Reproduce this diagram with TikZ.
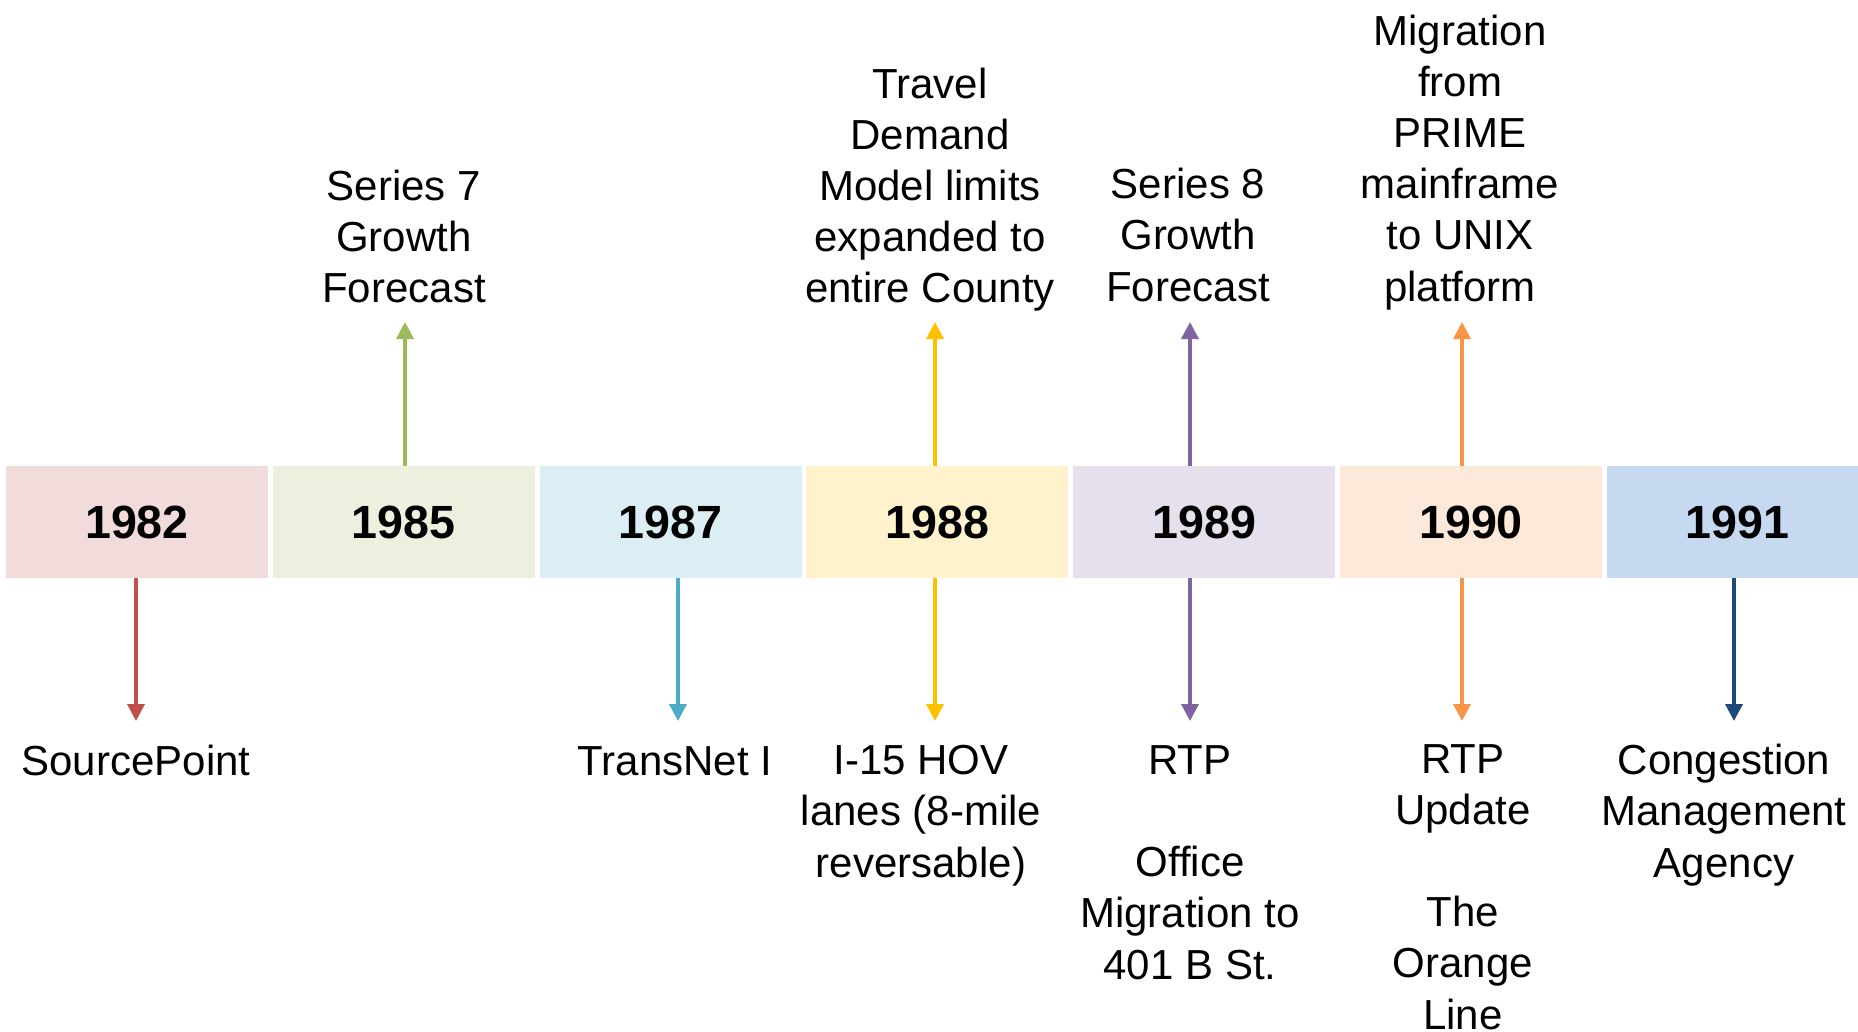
\documentclass[tikz,border=0pt]{standalone}
\usepackage{fontspec}
\setmainfont{Liberation Sans}
\usetikzlibrary{arrows.meta}
\definecolor{f1}{HTML}{F2DCDB}
\definecolor{f2}{HTML}{EBF1DE}
\definecolor{f3}{HTML}{DAEEF3}
\definecolor{f4}{HTML}{FFF2CC}
\definecolor{f5}{HTML}{E5E0EC}
\definecolor{f6}{HTML}{FDE9D9}
\definecolor{f7}{HTML}{C6D9F1}
\definecolor{c1}{HTML}{C0504D}
\definecolor{c2}{HTML}{9BBB59}
\definecolor{c3}{HTML}{4BACC6}
\definecolor{c4}{HTML}{FFC000}
\definecolor{c5}{HTML}{8064A2}
\definecolor{c6}{HTML}{F79646}
\definecolor{c7}{HTML}{1F497D}
\tikzset{
  yearbox/.style={minimum width=131pt, minimum height=56pt, inner sep=0pt, draw=none,
    font=\fontsize{23.3}{28}\selectfont\bfseries},
  lbl/.style={align=center, inner sep=0pt, anchor=base, font=\fontsize{21}{25.6}\selectfont},
  arr/.style={line width=1.8pt, -{Triangle[width=8.5pt,length=8.5pt]}}
}
\begin{document}
\begin{tikzpicture}[x=0.5pt,y=-0.5pt]
\clip (0,0) rectangle (1858,1032);
\fill[white] (0,0) rectangle (1858,1032);
% year boxes
\node[yearbox, fill=f1] (b1) at (137,522) {1982};
\node[yearbox, fill=f2] (b2) at (403.8,522) {1985};
\node[yearbox, fill=f3] (b3) at (670.6,522) {1987};
\node[yearbox, fill=f4] (b4) at (937.4,522) {1988};
\node[yearbox, fill=f5] (b5) at (1204.2,522) {1989};
\node[yearbox, fill=f6] (b6) at (1471,522) {1990};
\node[yearbox, fill=f7] (b7) at (1737.8,522) {1991};
% top labels (anchored at baseline of last line)
\node[lbl] (u2) at (404,303) {Series 7\\Growth\\Forecast};
\node[lbl] (u4) at (930,303) {Travel\\Demand\\Model limits\\expanded to\\entire County};
\node[lbl] (u5) at (1188,301) {Series 8\\Growth\\Forecast};
\node[lbl] (u6) at (1460,301) {Migration\\from\\PRIME\\mainframe\\to UNIX\\platform};
% bottom labels (anchored at baseline of last line)
\node[lbl] (d1) at (136,775) {SourcePoint};
\node[lbl] (d3) at (675,775) {TransNet I};
\node[lbl] (d4) at (921,877) {I-15 HOV\\lanes (8-mile\\reversable)};
\node[lbl] (d5) at (1190,979) {RTP\\~\\Office\\Migration to\\401 B St.};
\node[lbl] (d6) at (1463,1029) {RTP\\Update\\~\\The\\Orange\\Line};
\node[lbl] (d7) at (1724,877) {Congestion\\Management\\Agency};
% arrow tips
\coordinate (t1) at (136,721);
\coordinate (t2) at (405,322);
\coordinate (t3) at (678,721);
\coordinate (t4u) at (935,322);
\coordinate (t4) at (935,721);
\coordinate (t5u) at (1190,322);
\coordinate (t5) at (1190,721);
\coordinate (t6u) at (1462,322);
\coordinate (t6) at (1462,721);
\coordinate (t7) at (1734,721);
% arrows
\draw[arr, c1] (b1.south -| t1) -- (t1);
\draw[arr, c2] (b2.north -| t2) -- (t2);
\draw[arr, c3] (b3.south -| t3) -- (t3);
\draw[arr, c4] (b4.north -| t4u) -- (t4u);
\draw[arr, c4] (b4.south -| t4) -- (t4);
\draw[arr, c5] (b5.north -| t5u) -- (t5u);
\draw[arr, c5] (b5.south -| t5) -- (t5);
\draw[arr, c6] (b6.north -| t6u) -- (t6u);
\draw[arr, c6] (b6.south -| t6) -- (t6);
\draw[arr, c7] (b7.south -| t7) -- (t7);
\end{tikzpicture}
\end{document}
